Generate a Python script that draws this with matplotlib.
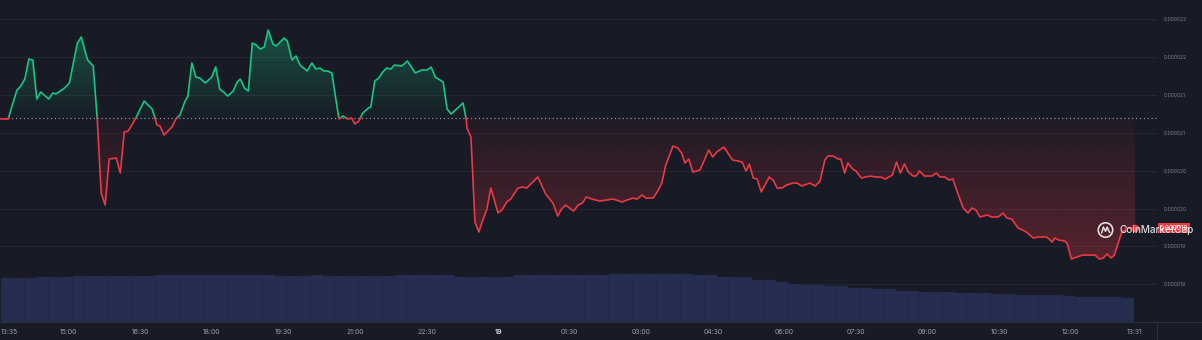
import numpy as np
import matplotlib
matplotlib.use("Agg")
import matplotlib.pyplot as plt
from matplotlib.path import Path
from matplotlib.colors import to_rgb
from matplotlib.lines import Line2D
from matplotlib.patches import Circle

plt.rcParams['font.family'] = ['Inter', 'DejaVu Sans']

# minutes since 13:35 (day 18) -> price in 1e-6 units
times = [0, 9, 20, 24, 30, 35, 40, 45, 50, 60, 65, 69, 80, 86, 96, 101, 106, 109, 116, 121,
         126, 131, 136, 145, 150, 155, 160, 169, 180, 190, 194, 196, 200, 205, 215, 220, 225, 231, 235, 240,
         245, 250, 257, 265, 270, 275, 280, 285, 292, 297, 301, 306, 311, 316, 321, 326, 331, 336, 342, 346,
         351, 356, 360, 366, 371, 376, 385, 391, 396, 401, 406, 411, 416, 425, 430, 436, 441, 445, 450, 455,
         462, 465, 470, 475, 480, 485, 490, 495, 504, 511, 521, 529, 536, 541, 546, 556, 561, 566, 581, 585,
         586, 591, 596, 601, 605, 611, 616, 625, 630, 636, 641, 650, 656, 661, 675, 685, 694, 700, 705, 710,
         720, 726, 731, 736, 743, 753, 762, 770, 781, 787, 795, 800, 806, 811, 820, 826, 831, 836, 845, 851,
         856, 860, 865, 870, 879, 890, 895, 900, 909, 920, 927, 932, 937, 941, 946, 951, 956, 966, 971, 976,
         982, 988, 996, 1001, 1007, 1017, 1024, 1030, 1036, 1040, 1046, 1053, 1056, 1061, 1065, 1071, 1075, 1082, 1087, 1093,
         1099, 1106, 1112, 1121, 1126, 1131, 1136, 1141, 1147, 1151, 1155, 1161, 1171, 1176, 1181, 1187, 1192, 1197, 1203, 1210,
         1216, 1221, 1226, 1231, 1240, 1246, 1254, 1260, 1265, 1271, 1279, 1285, 1291, 1298, 1304, 1315, 1322, 1325, 1330, 1338,
         1341, 1346, 1353, 1360, 1376, 1381, 1386, 1391, 1396, 1400, 1409, 1416, 1426]

price_u = [20.881, 20.881, 21.263, 21.303, 21.408, 21.672, 21.659, 21.145, 21.237, 21.145, 21.224, 21.211, 21.290, 21.356, 21.883, 21.963, 21.765, 21.659, 21.580, 20.881,
           19.904, 19.746, 20.353, 20.366, 20.168, 20.709, 20.722, 20.881, 21.118, 21.013, 20.881, 20.802, 20.788, 20.670, 20.775, 20.881, 20.933, 21.105, 21.184, 21.620,
           21.435, 21.422, 21.356, 21.435, 21.567, 21.276, 21.237, 21.184, 21.250, 21.369, 21.408, 21.290, 21.250, 21.883, 21.857, 21.804, 21.831, 22.055, 21.870, 21.844,
           21.897, 21.949, 21.910, 21.659, 21.712, 21.593, 21.514, 21.620, 21.540, 21.554, 21.514, 21.514, 21.488, 20.881, 20.920, 20.881, 20.894, 20.815, 20.854, 20.960,
           21.026, 21.039, 21.382, 21.422, 21.501, 21.554, 21.540, 21.593, 21.580, 21.646, 21.488, 21.527, 21.527, 21.567, 21.435, 21.369, 21.013, 20.947, 21.092, 20.881,
           20.762, 20.643, 19.522, 19.390, 19.522, 19.693, 19.970, 19.641, 19.680, 19.786, 19.825, 19.970, 19.984, 19.970, 20.116, 19.891, 19.772, 19.601, 19.693, 19.746,
           19.667, 19.746, 19.772, 19.852, 19.825, 19.799, 19.812, 19.825, 19.786, 19.812, 19.838, 19.825, 19.878, 19.838, 19.838, 19.931, 20.036, 20.274, 20.524, 20.498,
           20.432, 20.300, 20.353, 20.181, 20.208, 20.472, 20.379, 20.445, 20.511, 20.340, 20.327, 20.313, 20.195, 20.287, 20.102, 20.089, 19.918, 20.116, 20.076, 19.970,
           19.970, 20.010, 20.036, 20.036, 19.997, 20.036, 19.997, 20.063, 20.340, 20.393, 20.393, 20.353, 20.353, 20.168, 20.300, 20.221, 20.195, 20.102, 20.116, 20.129,
           20.116, 20.116, 20.089, 20.142, 20.313, 20.168, 20.287, 20.181, 20.129, 20.129, 20.195, 20.129, 20.129, 20.168, 20.116, 20.116, 20.076, 20.089, 19.904, 19.707,
           19.641, 19.707, 19.680, 19.588, 19.614, 19.588, 19.588, 19.641, 19.575, 19.561, 19.443, 19.416, 19.377, 19.311, 19.324, 19.324, 19.258, 19.311, 19.284, 19.271,
           19.232, 19.034, 19.060, 19.086, 19.086, 19.034, 19.047, 19.100, 19.047, 19.086, 19.377, 19.443, 19.443]

ref_price_u = 20.894   # dotted open-price line

# volume, one bar per 15 minutes (arbitrary units)
vol_step = 15
volume = [44, 44, 44, 45, 45, 45, 46, 46, 46, 46, 46, 46, 46, 47, 47, 47, 47, 47, 47, 47,
          47, 47, 47, 46, 46, 46, 47, 46, 46, 46, 46, 46, 46, 47, 47, 47, 47, 47, 45, 45,
          45, 45, 45, 47, 47, 47, 47, 47, 47, 47, 47, 48, 48, 48, 48, 48, 48, 48, 47, 47,
          45, 45, 45, 42, 42, 40, 38, 37, 37, 36, 36, 34, 34, 33, 33, 31, 31, 30, 30, 30,
          29, 29, 29, 28, 28, 27, 27, 27, 27, 26, 25, 25, 25, 25, 24]

xtick_pos = [0, 85, 175, 265, 355, 445, 535, 625, 715, 805, 895, 985, 1075, 1165, 1255, 1345, 1426]
xtick_lab = ['13:35', '15:00', '16:30', '18:00', '19:30', '21:00', '22:30', '19', '01:30', '03:00',
             '04:30', '06:00', '07:30', '09:00', '10:30', '12:00', '13:31']
ytick_u = [22.2, 21.7, 21.2, 20.7, 20.2, 19.7, 19.2, 18.7]

bg = '#181a25'
green = '#16c784'
red = '#ea3943'

W, H = 1202, 340
fig = plt.figure(figsize=(W / 100, H / 100), dpi=100, facecolor=bg)
ax = fig.add_axes([0, 18 / H, 1157 / W, 322 / H])
ax.set_facecolor(bg)

t = np.array(times, float)
p = np.array(price_u) * 1e-6
base = ref_price_u * 1e-6

# add crossing points so the line can switch colour exactly at the reference line
xs, ys = [t[0]], [p[0]]
for i in range(1, len(t)):
    d0, d1 = p[i - 1] - base, p[i] - base
    if d0 * d1 < 0:
        f = d0 / (d0 - d1)
        xs.append(t[i - 1] + f * (t[i] - t[i - 1]))
        ys.append(base)
    xs.append(t[i])
    ys.append(p[i])
xs, ys = np.array(xs), np.array(ys)


def grad_fill(mask, color, lo, hi, a_lo, a_hi):
    coll = ax.fill_between(xs, ys, base, where=mask, facecolor='none', edgecolor='none')
    img = np.zeros((256, 1, 4))
    img[..., :3] = to_rgb(color)
    img[:, 0, 3] = np.linspace(a_lo, a_hi, 256)
    im = ax.imshow(img, extent=[xs[0], xs[-1], lo, hi], origin='lower', aspect='auto',
                   interpolation='bilinear', zorder=1)
    path = Path.make_compound_path(*coll.get_paths())
    im.set_clip_path(path, transform=ax.transData)


grad_fill(ys >= base, green, base, p.max(), 0.02, 0.33)
grad_fill(ys <= base, red, p.min(), base, 0.30, 0.04)

ax.plot(xs, np.where(ys >= base, ys, np.nan), color=green, lw=1.2, zorder=3)
ax.plot(xs, np.where(ys <= base, ys, np.nan), color=red, lw=1.2, zorder=3)
ax.axhline(base, color='#9ea3ae', ls=(0, (1, 2.5)), lw=0.8, zorder=2)
ax.plot(t[-1], p[-1], 'o', ms=4.5, color=red, zorder=5, clip_on=False)

ax.set_xlim(-1.26, 1453.7)
ax.set_ylim(18.203e-6, 22.451e-6)

ax.set_yticks(np.array(ytick_u) * 1e-6)
ax.set_yticklabels(['%.6f' % (v * 1e-6) for v in ytick_u])
ax.yaxis.tick_right()
ax.tick_params(axis='y', length=0, pad=5, labelsize=3.6, labelcolor='#7d8290')
ax.grid(axis='y', color='#232735', lw=0.8)
ax.set_axisbelow(True)

ax.set_xticks(xtick_pos)
ax.set_xticklabels(xtick_lab)
ax.tick_params(axis='x', length=0, pad=5, labelsize=5, labelcolor='#9aa0ad')
lbls = ax.get_xticklabels()
lbls[0].set_ha('left')
lbls[7].set_fontweight('bold')
lbls[7].set_color('#d5d8df')
for s in ax.spines.values():
    s.set_visible(False)

# current price tag
ax.text(1.0026, p[-1], '%.6f' % p[-1], transform=ax.get_yaxis_transform(), ha='left', va='center',
        fontsize=4.6, color='white', clip_on=False, zorder=6,
        bbox=dict(boxstyle='square,pad=0.3', fc=red, ec='none'))

# volume bars
ax2 = fig.add_axes(ax.get_position(), sharex=ax)
ax2.patch.set_visible(False)
ax2.bar(np.arange(len(volume)) * vol_step, volume, width=vol_step, align='edge',
        color='#252e50', edgecolor='#212946', linewidth=0.3)
ax2.set_ylim(0, 322)
ax2.axis('off')
ax2.set_xlim(-1.26, 1453.7)

# separators of the time axis
fig.add_artist(Line2D([0, 1], [18 / H, 18 / H], transform=fig.transFigure, color='#2a2e3b', lw=0.8))
fig.add_artist(Line2D([1157 / W, 1157 / W], [0, 18 / H], transform=fig.transFigure, color='#2a2e3b', lw=0.8))

# watermark
fig.text(1119 / W, 110 / H, 'CoinMarketCap', fontsize=7.2, color='white', alpha=0.85,
         ha='left', va='center', fontweight='medium', zorder=10)
lax = fig.add_axes([1097 / W, 101.5 / H, 17 / W, 17 / H], zorder=10)
lax.set_xlim(-1, 1)
lax.set_ylim(-1, 1)
lax.axis('off')
lax.add_patch(Circle((0, 0), 0.85, fill=False, ec='white', lw=1.2, alpha=0.85))
lax.plot([-0.45, -0.25, 0.0, 0.2, 0.35, 0.5], [-0.35, 0.35, -0.15, 0.35, -0.05, -0.3],
         color='white', lw=1.1, alpha=0.85, solid_capstyle='round')

fig.savefig('out.png', dpi=100, facecolor=bg)
